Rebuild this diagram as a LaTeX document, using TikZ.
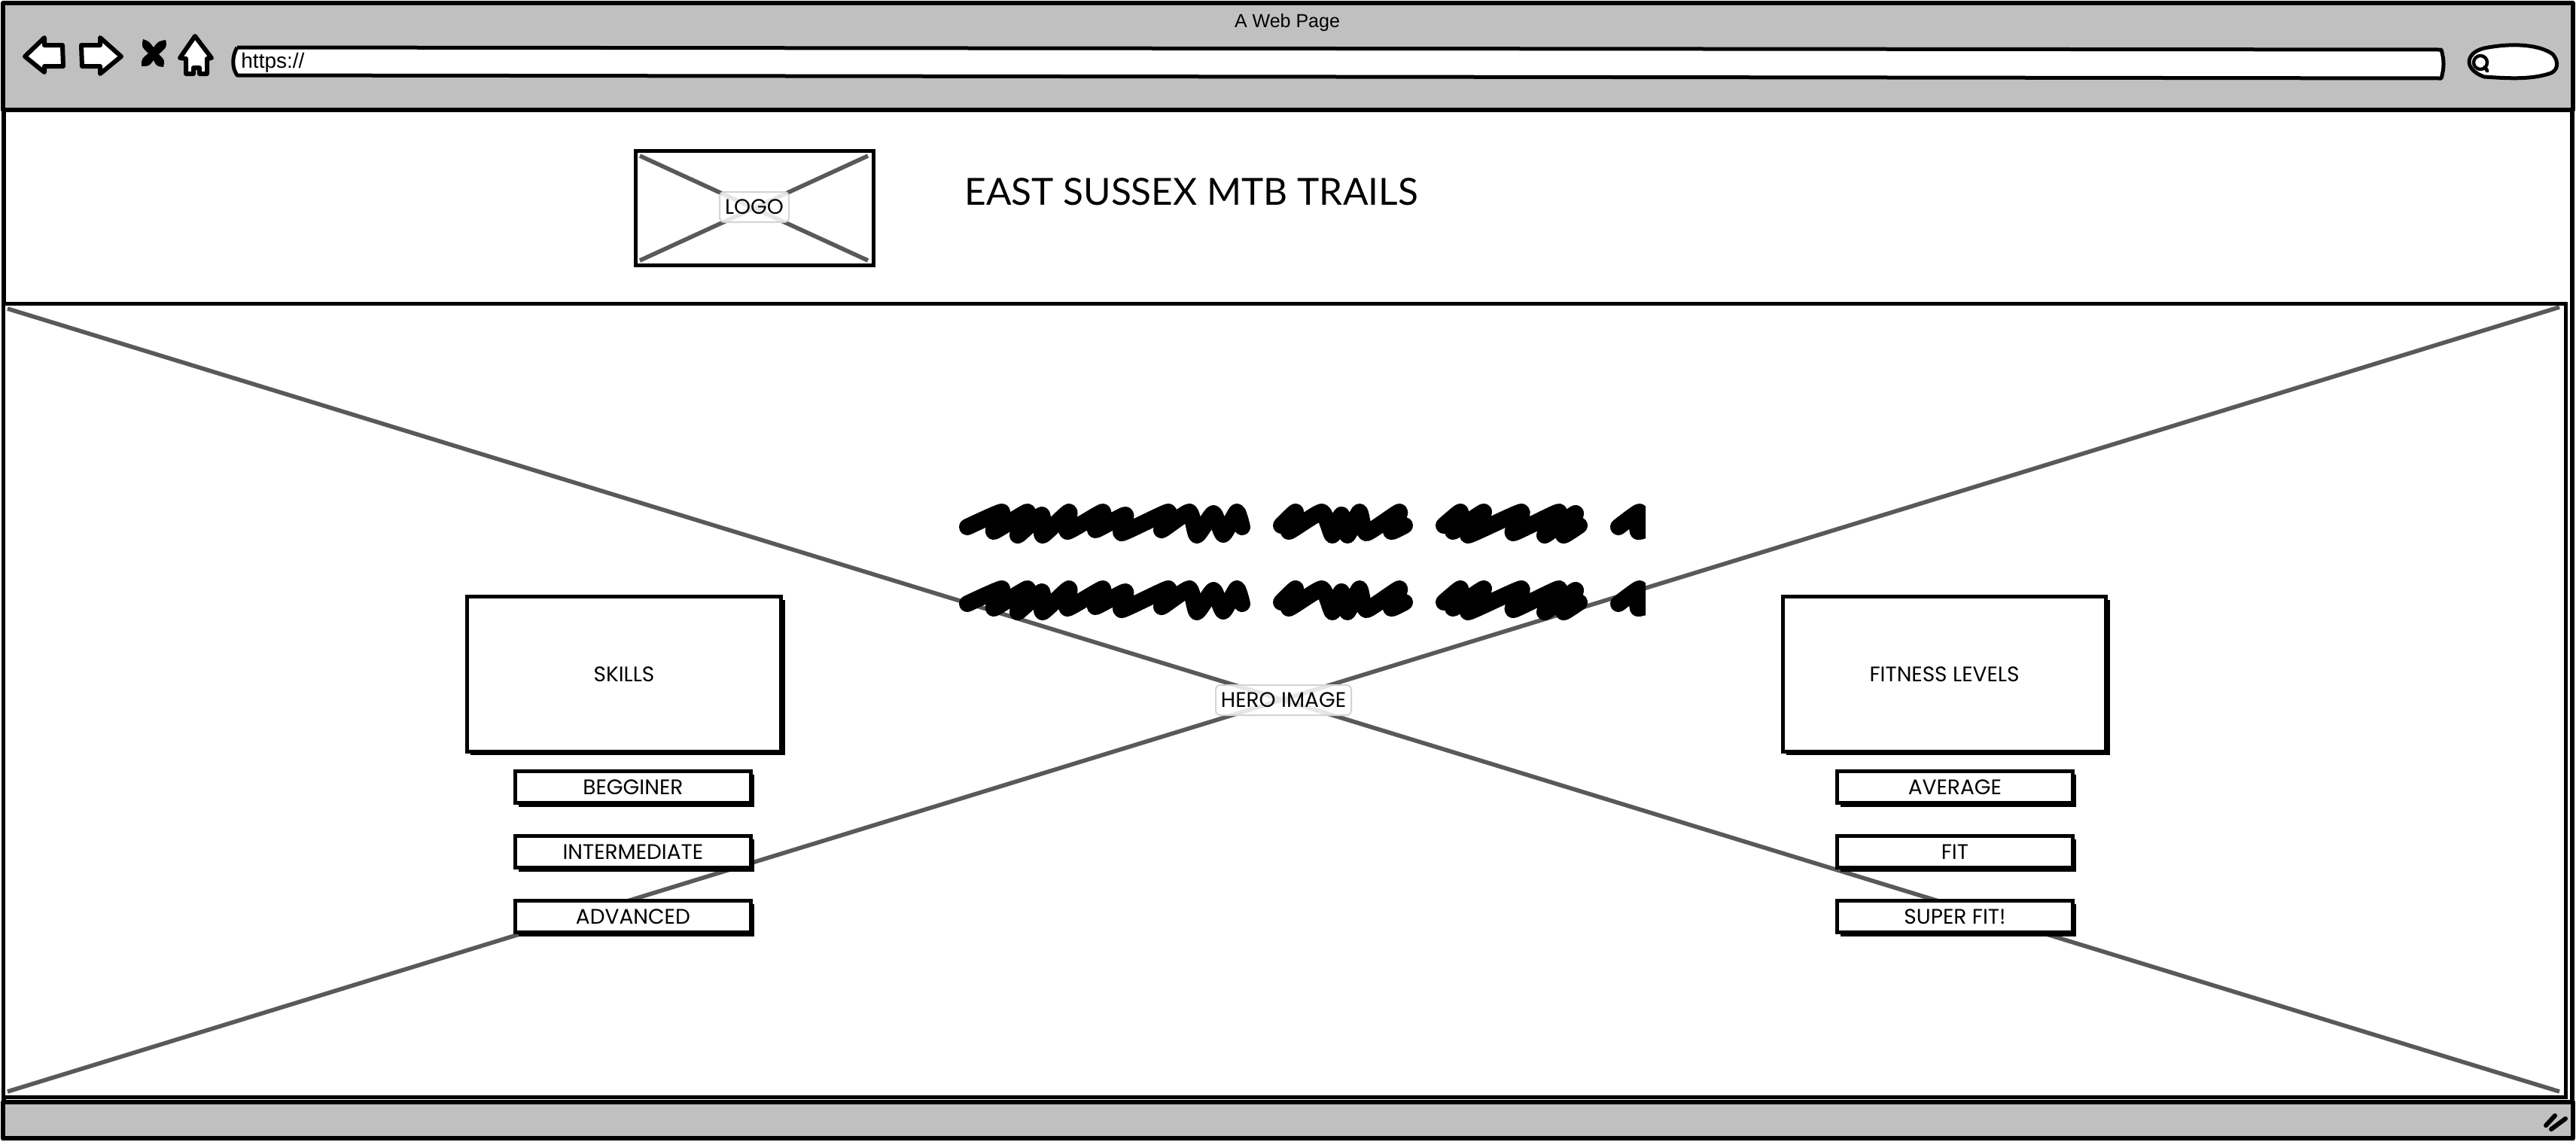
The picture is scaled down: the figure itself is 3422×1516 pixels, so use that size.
\documentclass[tikz,border=0pt]{standalone}
\usepackage{fontspec}
\setmainfont{Lato}
\newfontfamily\uifont{Liberation Sans}
\newfontfamily\labelfont{Poppins}
\usetikzlibrary{arrows.meta,positioning,shadows}

\begin{document}
\begin{tikzpicture}[
  x=.5pt, y=-.5pt,
  font=\labelfont\fontsize{14pt}{15pt}\selectfont,
  chrome/.style={draw, fill=chromegray, line width=3pt, line join=round},
  icon/.style={draw, fill=white, line width=3pt, line join=round},
  frame/.style={draw, fill=white, line width=2.5pt, inner sep=0pt},
  raised/.style={draw, fill=white, line width=2.4pt, inner sep=0pt,
    general shadow={fill=black, shadow xshift=2.5pt, shadow yshift=-2.5pt}},
  option/.style={raised, minimum width=156.5pt, minimum height=21.2pt},
  panel/.style={raised, minimum height=103pt},
  cross/.style={draw=crossgray, line width=2.8pt},
  tag/.style={draw=taggray, line width=1pt, fill=white, fill opacity=.85, text opacity=1,
    rounded corners=3pt, inner sep=0pt, minimum height=20pt},
  scrawl/.style={line width=11pt, line cap=round, line join=round}
]
\definecolor{chromegray}{HTML}{C0C0C0}
\definecolor{crossgray}{HTML}{595959}
\definecolor{taggray}{HTML}{D4D4D4}
\useasboundingbox (0,0) rectangle (3422,1516);

% browser window
\node[frame, line width=3pt, anchor=north west, minimum width=1706pt, minimum height=753.5pt] (window) at (2,2) {};
\path[chrome] (4,4) rectangle (3418,146);
\path[chrome] (4,1464) rectangle (3418,1512);
\node[font=\uifont\fontsize{12.5pt}{15pt}\selectfont] (title) at (1710,30) {A Web Page};

% toolbar icons
\path[icon] (33,75) -- (59,50) -- (59,60) -- (83,60) -- (84,88) -- (59,88) -- (59,96) -- cycle;
\path[icon] (108,60) -- (133,60) -- (133,50) -- (161,75) -- (133,98) -- (133,88) -- (109,88) -- cycle;
\fill (190,52) .. controls (198,55) .. (204,63) .. controls (210,55) .. (220,53)
  .. controls (222,62) .. (211,72) .. controls (219,80) .. (217,89)
  .. controls (208,88) .. (204,80) .. controls (198,88) .. (188,88)
  .. controls (188,78) .. (197,71) .. controls (188,62) .. (190,52) -- cycle;
\path[icon] (259,48) -- (281,77) -- (275,78) -- (275,98) -- (265,98) -- (265,90) -- (257,90)
  -- (257,98) -- (247,98) -- (247,78) -- (239,77) -- cycle;
\path[icon, line width=2.5pt] (315,63) -- (3243,66) .. controls (3247,80) and (3247,90) .. (3243,104)
  -- (315,100) .. controls (308,90) and (308,75) .. (315,63);
\node[font=\uifont\fontsize{14pt}{15pt}\selectfont, anchor=west, inner sep=0pt] (url) at (320,83) {https://};
\path[icon, line width=2.5pt] (3300,64) .. controls (3340,56) and (3375,60) .. (3391,72)
  .. controls (3400,82) and (3398,95) .. (3386,98)
  .. controls (3360,106) and (3330,104) .. (3300,102)
  .. controls (3272,92) and (3275,70) .. (3300,64);
\draw[line width=2.2pt] (3295,83) circle (9);
\draw[line width=2.4pt, line cap=round] (3301,89) -- (3304,94);
\draw[line width=3pt, line cap=round] (3382,1495) -- (3394,1482) (3389,1500) -- (3408,1486);

% page header
\node[frame, anchor=north west, minimum width=158pt, minimum height=76pt] (logo) at (842,198) {};
\coordinate (logoa) at (850,207);
\coordinate (logob) at (1153,207);
\coordinate (logoc) at (850,346);
\coordinate (logod) at (1153,346);
\draw[cross] (logoa) -- (logod);
\draw[cross] (logob) -- (logoc);
\node[tag, minimum width=46pt] (logotag) at (1002,275) {LOGO};
\node[font=\rmfamily\fontsize{24.8pt}{30pt}\selectfont, anchor=west, inner sep=0pt] (heading) at (1281,255) {EAST SUSSEX MTB TRAILS};

% hero image
\node[frame, anchor=north west, minimum width=1701.75pt, minimum height=527pt] (hero) at (2,401) {};
\coordinate (heroa) at (10,410);
\coordinate (herob) at (3400,408);
\coordinate (heroc) at (10,1450);
\coordinate (herod) at (3400,1450);
\draw[cross] (heroa) -- (herod);
\draw[cross] (herob) -- (heroc);
\node[tag, minimum width=90pt] (herotag) at (1705,930) {HERO IMAGE};

% scribbled text, cut off on the right
\begin{scope}
\clip (1260,650) rectangle (2186,840);
\foreach \y in {0,102} {
  \begin{scope}[yshift=-\y*.5pt]
  \draw[scrawl] plot[smooth, tension=.3] coordinates {(1285,700) (1331,680) (1320,706) (1365,680) (1352,711)
    (1384,684) (1385,711) (1420,680) (1418,706) (1465,680) (1455,704) (1495,684) (1490,708) (1552,680)
    (1543,704) (1580,680) (1590,711) (1612,682) (1625,710) (1643,680) (1650,700)};
  \draw[scrawl] plot[smooth, tension=.3] coordinates {(1702,698) (1721,680) (1712,706) (1756,680) (1770,711)
    (1782,684) (1790,711) (1806,680) (1815,708) (1859,680) (1848,706) (1866,698)};
  \draw[scrawl] plot[smooth, tension=.3] coordinates {(1918,698) (1940,680) (1930,706) (1971,680) (1950,711)
    (2021,680) (2010,708) (2071,680) (2052,711) (2093,682) (2077,711) (2098,698)};
  \draw[scrawl] plot[smooth, tension=.3] coordinates {(2150,700) (2178,680) (2176,706) (2210,695)};
  \end{scope}
}
\end{scope}

% skills column
\node[panel, anchor=north west, minimum width=208.6pt] (skills) at (618,790) {SKILLS};
\node[option, anchor=north west] (begginer) at (682,1022) {BEGGINER};
\node[option, anchor=north west] (intermediate) at (682,1108) {INTERMEDIATE};
\node[option, anchor=north west] (advanced) at (682,1194) {ADVANCED};

% fitness column
\node[panel, anchor=north west, minimum width=214.6pt] (fitness) at (2366,790) {FITNESS LEVELS};
\node[option, anchor=north west] (average) at (2438,1022) {AVERAGE};
\node[option, anchor=north west] (fit) at (2438,1108) {FIT};
\node[option, anchor=north west] (superfit) at (2438,1194) {SUPER FIT!};
\end{tikzpicture}
\end{document}
